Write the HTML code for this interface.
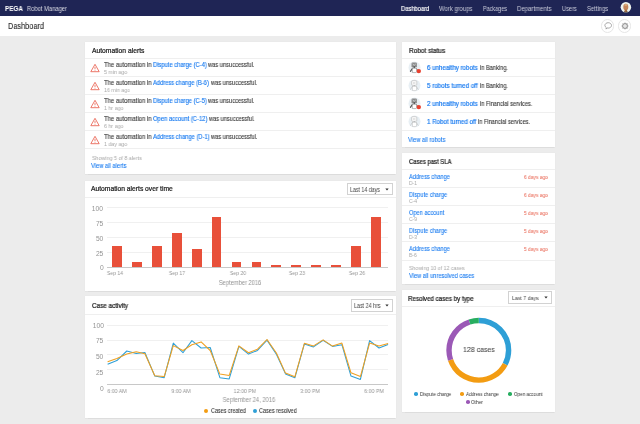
<!DOCTYPE html>
<html><head><meta charset="utf-8"><title>Robot Manager - Dashboard</title>
<style>
html,body{margin:0;padding:0;width:640px;height:424px;overflow:hidden;background:#ececec;font-family:"Liberation Sans", sans-serif;}
.t{position:absolute;white-space:nowrap;line-height:12px;will-change:transform;}
</style></head><body>
<div style="position:absolute;left:0.00px;top:0.00px;width:640.00px;height:16.00px;background:#1f2555"></div>
<div class="t" style="top:3.00px;font-size:6.985px;color:#fff;font-weight:bold;left:5.00px;transform-origin:0 0;transform:scaleX(0.9091);">PEGA</div>
<div class="t" style="top:3.00px;font-size:6.960px;color:#d8d9e3;left:27.00px;transform-origin:0 0;transform:scaleX(0.8333);">Robot Manager</div>
<div class="t" style="top:3.00px;font-size:6.435px;color:#fff;left:401.20px;transform-origin:0 0;transform:scaleX(0.9022);-webkit-text-stroke:0.15px #fff;">Dashboard</div>
<div class="t" style="top:3.00px;font-size:6.435px;color:#c9cbda;left:439.40px;transform-origin:0 0;transform:scaleX(0.9214);">Work groups</div>
<div class="t" style="top:3.00px;font-size:6.435px;color:#c9cbda;left:482.80px;transform-origin:0 0;transform:scaleX(0.8493);">Packages</div>
<div class="t" style="top:3.00px;font-size:6.435px;color:#c9cbda;left:517.10px;transform-origin:0 0;transform:scaleX(0.9366);">Departments</div>
<div class="t" style="top:3.00px;font-size:6.435px;color:#c9cbda;left:561.80px;transform-origin:0 0;transform:scaleX(0.8808);">Users</div>
<div class="t" style="top:3.00px;font-size:6.435px;color:#c9cbda;left:586.80px;transform-origin:0 0;transform:scaleX(0.9075);">Settings</div>
<svg style="position:absolute;left:620px;top:1px" width="12.5" height="12.5" viewBox="0 0 12.5 12.5"><clipPath id="av"><circle cx="5.9" cy="6.3" r="5.25"/></clipPath><g clip-path="url(#av)"><rect x="0" y="0" width="13" height="13" fill="#eef3ee"/><ellipse cx="5.8" cy="6.0" rx="2.5" ry="3.3" fill="#c4855a"/><ellipse cx="5.8" cy="3.9" rx="1.6" ry="1.1" fill="#d9a878"/><rect x="4.6" y="8.6" width="2.5" height="2.4" fill="#a8703f"/><path d="M3.2 12.5 L4.2 10.2 L5.8 10.9 L7.4 10.2 L8.4 12.5Z" fill="#4e4038"/></g></svg>
<div style="position:absolute;left:0.00px;top:16.00px;width:640.00px;height:19.80px;background:#fff"></div>
<div class="t" style="top:20.00px;font-size:8.832px;color:#2b2b2b;left:8.00px;transform-origin:0 0;transform:scaleX(0.8333);-webkit-text-stroke:0.1px #2b2b2b;">Dashboard</div>
<div style="position:absolute;left:600.70px;top:19.40px;width:13.20px;height:13.20px;border-radius:50%;box-sizing:border-box;border:1.1px solid #e6e6e6;background:#fff"></div>
<div style="position:absolute;left:618.20px;top:19.40px;width:13.20px;height:13.20px;border-radius:50%;box-sizing:border-box;border:1.1px solid #e6e6e6;background:#fff"></div>
<svg style="position:absolute;left:602.8px;top:20.9px" width="10" height="10" viewBox="0 0 10 10"><path d="M5.2 1.7 C7 1.7 8.5 2.9 8.5 4.4 C8.5 5.9 7 7.1 5.2 7.1 C4.8 7.1 4.4 7.05 4.05 6.95 L3.1 8.1 L3.2 6.5 C2.4 6 1.9 5.25 1.9 4.4 C1.9 2.9 3.4 1.7 5.2 1.7Z" fill="none" stroke="#979797" stroke-width="0.85" stroke-linejoin="round"/></svg>
<svg style="position:absolute;left:620px;top:21.3px" width="10" height="10" viewBox="0 0 10 10"><circle cx="5" cy="5" r="2.35" fill="none" stroke="#9a9a9a" stroke-width="1.2"/><rect x="4.6" y="1.5" width="0.8" height="1.0" fill="#9a9a9a" transform="rotate(0 5 5)"/><rect x="4.6" y="1.5" width="0.8" height="1.0" fill="#9a9a9a" transform="rotate(45 5 5)"/><rect x="4.6" y="1.5" width="0.8" height="1.0" fill="#9a9a9a" transform="rotate(90 5 5)"/><rect x="4.6" y="1.5" width="0.8" height="1.0" fill="#9a9a9a" transform="rotate(135 5 5)"/><rect x="4.6" y="1.5" width="0.8" height="1.0" fill="#9a9a9a" transform="rotate(180 5 5)"/><rect x="4.6" y="1.5" width="0.8" height="1.0" fill="#9a9a9a" transform="rotate(225 5 5)"/><rect x="4.6" y="1.5" width="0.8" height="1.0" fill="#9a9a9a" transform="rotate(270 5 5)"/><rect x="4.6" y="1.5" width="0.8" height="1.0" fill="#9a9a9a" transform="rotate(315 5 5)"/><circle cx="5" cy="5" r="1.0" fill="#dcdcdc"/></svg>
<div style="position:absolute;left:0.00px;top:35.80px;width:640.00px;height:388.20px;background:#ececec"></div>
<div style="position:absolute;left:85.00px;top:41.60px;width:311.00px;height:132.70px;background:#fff;box-shadow:0 0 0.6px rgba(0,0,0,0.16),0 0.6px 1px rgba(0,0,0,0.06)"></div>
<div class="t" style="top:45.00px;font-size:6.600px;color:#222;left:91.50px;transform-origin:0 0;transform:scaleX(1.0223);-webkit-text-stroke:0.22px #222;">Automation alerts</div>
<div style="position:absolute;left:85.00px;top:57.90px;width:311.00px;height:1.00px;background:#efefef"></div>
<div class="t" style="top:59.00px;font-size:6.490px;color:#333;left:104.00px;transform-origin:0 0;transform:scaleX(0.9163);-webkit-text-stroke:0.1px #333;">The automation in</div>
<div class="t" style="top:59.00px;font-size:6.490px;color:#1b7cf0;left:153.10px;transform-origin:0 0;transform:scaleX(0.8932);-webkit-text-stroke:0.15px #1b7cf0;">Dispute charge (C-4)</div>
<div class="t" style="top:59.00px;font-size:6.490px;color:#333;left:208.40px;transform-origin:0 0;transform:scaleX(0.8811);-webkit-text-stroke:0.1px #333;">was unsuccessful.</div>
<div class="t" style="top:66.00px;font-size:5.830px;color:#a8a8a8;left:104.00px;transform-origin:0 0;transform:scaleX(0.9091);">5 min ago</div>
<svg style="position:absolute;left:90px;top:62.50px" width="10" height="10" viewBox="0 0 10 10"><path d="M5 1.3 L9.2 8.7 L0.8 8.7 Z" fill="none" stroke="#e8604f" stroke-width="0.85" stroke-linejoin="round"/><path d="M5 3.9 L5 6.2" stroke="#e8604f" stroke-width="0.8"/><circle cx="5" cy="7.3" r="0.45" fill="#e8604f"/></svg>
<div style="position:absolute;left:85.00px;top:75.90px;width:311.00px;height:1.00px;background:#efefef"></div>
<div class="t" style="top:77.00px;font-size:6.490px;color:#333;left:104.00px;transform-origin:0 0;transform:scaleX(0.9163);-webkit-text-stroke:0.1px #333;">The automation in</div>
<div class="t" style="top:77.00px;font-size:6.490px;color:#1b7cf0;left:153.10px;transform-origin:0 0;transform:scaleX(0.8856);-webkit-text-stroke:0.15px #1b7cf0;">Address change (B-6)</div>
<div class="t" style="top:77.00px;font-size:6.490px;color:#333;left:210.90px;transform-origin:0 0;transform:scaleX(0.8792);-webkit-text-stroke:0.1px #333;">was unsuccessful.</div>
<div class="t" style="top:84.00px;font-size:5.830px;color:#a8a8a8;left:104.00px;transform-origin:0 0;transform:scaleX(0.9091);">16 min ago</div>
<svg style="position:absolute;left:90px;top:80.50px" width="10" height="10" viewBox="0 0 10 10"><path d="M5 1.3 L9.2 8.7 L0.8 8.7 Z" fill="none" stroke="#e8604f" stroke-width="0.85" stroke-linejoin="round"/><path d="M5 3.9 L5 6.2" stroke="#e8604f" stroke-width="0.8"/><circle cx="5" cy="7.3" r="0.45" fill="#e8604f"/></svg>
<div style="position:absolute;left:85.00px;top:93.90px;width:311.00px;height:1.00px;background:#efefef"></div>
<div class="t" style="top:95.00px;font-size:6.490px;color:#333;left:104.00px;transform-origin:0 0;transform:scaleX(0.9163);-webkit-text-stroke:0.1px #333;">The automation in</div>
<div class="t" style="top:95.00px;font-size:6.490px;color:#1b7cf0;left:153.10px;transform-origin:0 0;transform:scaleX(0.8932);-webkit-text-stroke:0.15px #1b7cf0;">Dispute charge (C-5)</div>
<div class="t" style="top:95.00px;font-size:6.490px;color:#333;left:208.40px;transform-origin:0 0;transform:scaleX(0.8811);-webkit-text-stroke:0.1px #333;">was unsuccessful.</div>
<div class="t" style="top:102.00px;font-size:5.830px;color:#a8a8a8;left:104.00px;transform-origin:0 0;transform:scaleX(0.9091);">1 hr ago</div>
<svg style="position:absolute;left:90px;top:98.50px" width="10" height="10" viewBox="0 0 10 10"><path d="M5 1.3 L9.2 8.7 L0.8 8.7 Z" fill="none" stroke="#e8604f" stroke-width="0.85" stroke-linejoin="round"/><path d="M5 3.9 L5 6.2" stroke="#e8604f" stroke-width="0.8"/><circle cx="5" cy="7.3" r="0.45" fill="#e8604f"/></svg>
<div style="position:absolute;left:85.00px;top:111.90px;width:311.00px;height:1.00px;background:#efefef"></div>
<div class="t" style="top:113.00px;font-size:6.490px;color:#333;left:104.00px;transform-origin:0 0;transform:scaleX(0.9163);-webkit-text-stroke:0.1px #333;">The automation in</div>
<div class="t" style="top:113.00px;font-size:6.490px;color:#1b7cf0;left:153.10px;transform-origin:0 0;transform:scaleX(0.8977);-webkit-text-stroke:0.15px #1b7cf0;">Open account (C-12)</div>
<div class="t" style="top:113.00px;font-size:6.490px;color:#333;left:209.00px;transform-origin:0 0;transform:scaleX(0.8697);-webkit-text-stroke:0.1px #333;">was unsuccessful.</div>
<div class="t" style="top:120.00px;font-size:5.830px;color:#a8a8a8;left:104.00px;transform-origin:0 0;transform:scaleX(0.9091);">6 hr ago</div>
<svg style="position:absolute;left:90px;top:116.50px" width="10" height="10" viewBox="0 0 10 10"><path d="M5 1.3 L9.2 8.7 L0.8 8.7 Z" fill="none" stroke="#e8604f" stroke-width="0.85" stroke-linejoin="round"/><path d="M5 3.9 L5 6.2" stroke="#e8604f" stroke-width="0.8"/><circle cx="5" cy="7.3" r="0.45" fill="#e8604f"/></svg>
<div style="position:absolute;left:85.00px;top:129.90px;width:311.00px;height:1.00px;background:#efefef"></div>
<div class="t" style="top:131.00px;font-size:6.490px;color:#333;left:104.00px;transform-origin:0 0;transform:scaleX(0.9163);-webkit-text-stroke:0.1px #333;">The automation in</div>
<div class="t" style="top:131.00px;font-size:6.490px;color:#1b7cf0;left:153.10px;transform-origin:0 0;transform:scaleX(0.8924);-webkit-text-stroke:0.15px #1b7cf0;">Address change (D-1)</div>
<div class="t" style="top:131.00px;font-size:6.490px;color:#333;left:211.25px;transform-origin:0 0;transform:scaleX(0.8830);-webkit-text-stroke:0.1px #333;">was unsuccessful.</div>
<div class="t" style="top:138.00px;font-size:5.830px;color:#a8a8a8;left:104.00px;transform-origin:0 0;transform:scaleX(0.9091);">1 day ago</div>
<svg style="position:absolute;left:90px;top:134.50px" width="10" height="10" viewBox="0 0 10 10"><path d="M5 1.3 L9.2 8.7 L0.8 8.7 Z" fill="none" stroke="#e8604f" stroke-width="0.85" stroke-linejoin="round"/><path d="M5 3.9 L5 6.2" stroke="#e8604f" stroke-width="0.8"/><circle cx="5" cy="7.3" r="0.45" fill="#e8604f"/></svg>
<div style="position:absolute;left:85.00px;top:147.90px;width:311.00px;height:1.00px;background:#efefef"></div>
<div class="t" style="top:152.00px;font-size:6.152px;color:#a8a8a8;left:91.50px;transform-origin:0 0;transform:scaleX(0.8696);">Showing 5 of 8 alerts</div>
<div class="t" style="top:160.00px;font-size:6.635px;color:#1b7cf0;left:91.30px;transform-origin:0 0;transform:scaleX(0.8696);-webkit-text-stroke:0.1px #1b7cf0;">View all alerts</div>
<div style="position:absolute;left:85.00px;top:180.50px;width:311.00px;height:110.00px;background:#fff;box-shadow:0 0 0.6px rgba(0,0,0,0.16),0 0.6px 1px rgba(0,0,0,0.06)"></div>
<div class="t" style="top:183.00px;font-size:6.600px;color:#222;left:91.40px;transform-origin:0 0;transform:scaleX(1.0183);-webkit-text-stroke:0.22px #222;">Automation alerts over time</div>
<div style="position:absolute;left:85.00px;top:197.00px;width:311.00px;height:1.00px;background:#efefef"></div>
<div style="position:absolute;left:346.50px;top:182.50px;width:46.70px;height:12.30px;box-sizing:border-box;border:0.8px solid #d2d2d2;background:#fff"></div>
<div class="t" style="top:184.00px;font-size:6.348px;color:#444;left:350.00px;transform-origin:0 0;transform:scaleX(0.8333);">Last 14 days</div>
<svg style="position:absolute;left:385.00px;top:187.50px" width="4" height="3" viewBox="0 0 4 3"><path d="M0.3 0.6 L3.7 0.6 L2 2.4Z" fill="#333"/></svg>
<div style="position:absolute;left:107.00px;top:206.90px;width:281.00px;height:1.00px;background:#f0f0f0"></div>
<div style="position:absolute;left:107.00px;top:221.90px;width:281.00px;height:1.00px;background:#f0f0f0"></div>
<div style="position:absolute;left:107.00px;top:236.90px;width:281.00px;height:1.00px;background:#f0f0f0"></div>
<div style="position:absolute;left:107.00px;top:251.90px;width:281.00px;height:1.00px;background:#f0f0f0"></div>
<div class="t" style="top:203.00px;font-size:6.600px;color:#939393;right:536.60px;transform-origin:100% 0;transform:scaleX(1.0163);">100</div>
<div class="t" style="top:218.00px;font-size:6.600px;color:#939393;right:536.60px;transform-origin:100% 0;transform:scaleX(1.0163);">75</div>
<div class="t" style="top:233.00px;font-size:6.600px;color:#939393;right:536.60px;transform-origin:100% 0;transform:scaleX(1.0163);">50</div>
<div class="t" style="top:248.00px;font-size:6.600px;color:#939393;right:536.60px;transform-origin:100% 0;transform:scaleX(1.0163);">25</div>
<div class="t" style="top:262.00px;font-size:6.600px;color:#939393;right:536.60px;transform-origin:100% 0;transform:scaleX(1.0163);">0</div>
<div style="position:absolute;left:112.00px;top:245.60px;width:9.80px;height:21.60px;background:#e8503a"></div>
<div style="position:absolute;left:131.93px;top:261.80px;width:9.80px;height:5.40px;background:#e8503a"></div>
<div style="position:absolute;left:151.86px;top:245.60px;width:9.80px;height:21.60px;background:#e8503a"></div>
<div style="position:absolute;left:171.79px;top:232.70px;width:9.80px;height:34.50px;background:#e8503a"></div>
<div style="position:absolute;left:191.72px;top:248.60px;width:9.80px;height:18.60px;background:#e8503a"></div>
<div style="position:absolute;left:211.65px;top:217.40px;width:9.80px;height:49.80px;background:#e8503a"></div>
<div style="position:absolute;left:231.58px;top:262.40px;width:9.80px;height:4.80px;background:#e8503a"></div>
<div style="position:absolute;left:251.51px;top:262.40px;width:9.80px;height:4.80px;background:#e8503a"></div>
<div style="position:absolute;left:271.44px;top:264.80px;width:9.80px;height:2.40px;background:#e8503a"></div>
<div style="position:absolute;left:291.37px;top:264.80px;width:9.80px;height:2.40px;background:#e8503a"></div>
<div style="position:absolute;left:311.30px;top:264.80px;width:9.80px;height:2.40px;background:#e8503a"></div>
<div style="position:absolute;left:331.23px;top:264.80px;width:9.80px;height:2.40px;background:#e8503a"></div>
<div style="position:absolute;left:351.16px;top:245.60px;width:9.80px;height:21.60px;background:#e8503a"></div>
<div style="position:absolute;left:371.09px;top:217.40px;width:9.80px;height:49.80px;background:#e8503a"></div>
<div style="position:absolute;left:107.00px;top:266.90px;width:281.00px;height:1.50px;background:#c8c8c8"></div>
<div class="t" style="top:267.00px;font-size:6.156px;color:#939393;left:-85.40px;width:400px;text-align:center;transform-origin:50% 0;transform:scaleX(0.8333);">Sep 14</div>
<div class="t" style="top:267.00px;font-size:6.156px;color:#939393;left:-23.10px;width:400px;text-align:center;transform-origin:50% 0;transform:scaleX(0.8333);">Sep 17</div>
<div class="t" style="top:267.00px;font-size:6.156px;color:#939393;left:37.50px;width:400px;text-align:center;transform-origin:50% 0;transform:scaleX(0.8333);">Sep 20</div>
<div class="t" style="top:267.00px;font-size:6.156px;color:#939393;left:96.90px;width:400px;text-align:center;transform-origin:50% 0;transform:scaleX(0.8333);">Sep 23</div>
<div class="t" style="top:267.00px;font-size:6.156px;color:#939393;left:157.25px;width:400px;text-align:center;transform-origin:50% 0;transform:scaleX(0.8333);">Sep 26</div>
<div class="t" style="top:277.00px;font-size:6.325px;color:#939393;left:40.00px;width:400px;text-align:center;transform-origin:50% 0;transform:scaleX(0.9091);">September 2016</div>
<div style="position:absolute;left:85.00px;top:296.30px;width:311.00px;height:121.70px;background:#fff;box-shadow:0 0 0.6px rgba(0,0,0,0.16),0 0.6px 1px rgba(0,0,0,0.06)"></div>
<div class="t" style="top:300.00px;font-size:6.600px;color:#222;left:91.75px;transform-origin:0 0;transform:scaleX(0.9623);-webkit-text-stroke:0.22px #222;">Case activity</div>
<div style="position:absolute;left:85.00px;top:313.70px;width:311.00px;height:1.00px;background:#efefef"></div>
<div style="position:absolute;left:351.10px;top:299.20px;width:41.60px;height:12.50px;box-sizing:border-box;border:0.8px solid #d2d2d2;background:#fff"></div>
<div class="t" style="top:300.00px;font-size:6.432px;color:#444;left:354.00px;transform-origin:0 0;transform:scaleX(0.8333);">Last 24 hrs</div>
<svg style="position:absolute;left:384.60px;top:304.10px" width="4" height="3" viewBox="0 0 4 3"><path d="M0.3 0.6 L3.7 0.6 L2 2.4Z" fill="#333"/></svg>
<div style="position:absolute;left:107.00px;top:324.80px;width:281.00px;height:1.00px;background:#f0f0f0"></div>
<div style="position:absolute;left:107.00px;top:339.50px;width:281.00px;height:1.00px;background:#f0f0f0"></div>
<div style="position:absolute;left:107.00px;top:354.40px;width:281.00px;height:1.00px;background:#f0f0f0"></div>
<div style="position:absolute;left:107.00px;top:369.10px;width:281.00px;height:1.00px;background:#f0f0f0"></div>
<div style="position:absolute;left:107.00px;top:383.80px;width:281.00px;height:1.50px;background:#c8c8c8"></div>
<div class="t" style="top:320.00px;font-size:6.600px;color:#939393;right:536.40px;transform-origin:100% 0;transform:scaleX(1.0163);">100</div>
<div class="t" style="top:335.00px;font-size:6.600px;color:#939393;right:536.40px;transform-origin:100% 0;transform:scaleX(1.0163);">75</div>
<div class="t" style="top:351.00px;font-size:6.600px;color:#939393;right:536.40px;transform-origin:100% 0;transform:scaleX(1.0163);">50</div>
<div class="t" style="top:367.00px;font-size:6.600px;color:#939393;right:536.40px;transform-origin:100% 0;transform:scaleX(1.0163);">25</div>
<div class="t" style="top:383.00px;font-size:6.600px;color:#939393;right:536.40px;transform-origin:100% 0;transform:scaleX(1.0163);">0</div>
<div class="t" style="top:385.00px;font-size:6.049px;color:#939393;left:-83.40px;width:400px;text-align:center;transform-origin:50% 0;transform:scaleX(0.8696);">6:00 AM</div>
<div class="t" style="top:385.00px;font-size:6.049px;color:#939393;left:-19.00px;width:400px;text-align:center;transform-origin:50% 0;transform:scaleX(0.8696);">9:00 AM</div>
<div class="t" style="top:385.00px;font-size:6.049px;color:#939393;left:45.00px;width:400px;text-align:center;transform-origin:50% 0;transform:scaleX(0.8696);">12:00 PM</div>
<div class="t" style="top:385.00px;font-size:6.049px;color:#939393;left:110.00px;width:400px;text-align:center;transform-origin:50% 0;transform:scaleX(0.8696);">3:00 PM</div>
<div class="t" style="top:385.00px;font-size:6.049px;color:#939393;left:174.20px;width:400px;text-align:center;transform-origin:50% 0;transform:scaleX(0.8696);">6:00 PM</div>
<div class="t" style="top:394.00px;font-size:6.380px;color:#939393;left:49.00px;width:400px;text-align:center;transform-origin:50% 0;transform:scaleX(0.9091);">September 24, 2016</div>
<div style="position:absolute;left:204px;top:408.7px;width:4px;height:4px;border-radius:50%;background:#f39c12"></div>
<div class="t" style="top:405.00px;font-size:6.516px;color:#333;left:210.50px;transform-origin:0 0;transform:scaleX(0.8333);-webkit-text-stroke:0.08px #333;">Cases created</div>
<div style="position:absolute;left:252.6px;top:408.5px;width:4px;height:4px;border-radius:50%;background:#2e9fd6"></div>
<div class="t" style="top:405.00px;font-size:6.600px;color:#333;left:259.40px;transform-origin:0 0;transform:scaleX(0.8333);-webkit-text-stroke:0.08px #333;">Cases resolved</div>
<svg style="position:absolute;left:0;top:0" width="640" height="424"><polyline points="107.6,364.2 116.9,360.6 126.8,351.0 136.2,353.5 144.9,352.5 154.8,376.1 164.2,377.7 173.3,343.1 183.0,352.7 191.9,340.6 201.1,348.0 210.2,347.5 219.9,377.7 229.2,378.9 238.9,346.4 248.5,354.1 257.5,350.4 267.0,340.1 276.4,354.3 285.5,373.9 294.9,377.7 304.4,343.9 313.5,346.9 323.1,340.4 332.5,346.4 341.9,344.7 351.0,376.1 360.4,379.4 369.6,340.6 379.0,348.0 388.1,344.4" fill="none" stroke="#2e9fd6" stroke-width="1.05" stroke-linejoin="round"/><polyline points="107.6,361.7 116.9,358.4 126.8,354.1 136.2,351.7 144.9,353.8 154.8,375.8 164.2,376.6 173.3,345.6 183.0,350.5 191.9,344.7 201.1,341.9 210.2,350.5 219.9,374.1 229.2,375.4 238.9,345.9 248.5,352.7 257.5,349.2 267.0,339.5 276.4,353.0 285.5,373.1 294.9,376.7 304.4,343.3 313.5,345.9 323.1,339.9 332.5,346.1 341.9,343.1 351.0,372.8 360.4,376.6 369.6,343.1 379.0,346.1 388.1,343.6" fill="none" stroke="#f0a020" stroke-width="1.05" stroke-linejoin="round"/></svg>
<div style="position:absolute;left:401.70px;top:41.60px;width:153.00px;height:105.60px;background:#fff;box-shadow:0 0 0.6px rgba(0,0,0,0.16),0 0.6px 1px rgba(0,0,0,0.06)"></div>
<div class="t" style="top:45.00px;font-size:6.600px;color:#222;left:408.75px;transform-origin:0 0;transform:scaleX(0.9784);-webkit-text-stroke:0.22px #222;">Robot status</div>
<div style="position:absolute;left:401.70px;top:57.80px;width:153.00px;height:1.00px;background:#efefef"></div>
<div class="t" style="top:62.00px;font-size:6.600px;color:#1b7cf0;left:426.60px;transform-origin:0 0;transform:scaleX(0.9337);-webkit-text-stroke:0.2px #1b7cf0;">6 unhealthy robots</div>
<div class="t" style="top:62.00px;font-size:6.600px;color:#333;left:479.60px;transform-origin:0 0;transform:scaleX(0.8544);-webkit-text-stroke:0.1px #333;">in Banking.</div>
<svg style="position:absolute;left:408.1px;top:61.10px" width="13" height="13" viewBox="0 0 13 13"><circle cx="6.5" cy="6.5" r="6" fill="#e8eff4"/><rect x="3.5" y="1.5" width="5.4" height="5" rx="1.2" fill="#8c8c8c"/><path d="M4.7 3 L6.2 4.4 L7.7 3" stroke="#d8dee2" stroke-width="0.8" fill="none"/><rect x="5.7" y="5.2" width="1" height="2" fill="#3a3a3a"/><path d="M4.3 7.6 L2.4 10.4" stroke="#555" stroke-width="1.1" stroke-linecap="round"/><path d="M8.4 7.6 L10 9.6" stroke="#777" stroke-width="1" stroke-linecap="round"/><rect x="4.4" y="7.3" width="3.9" height="4.3" fill="#fff" stroke="#8a8a8a" stroke-width="0.5"/><circle cx="10.8" cy="10.1" r="2.2" fill="#e8402f"/></svg>
<div style="position:absolute;left:401.70px;top:75.80px;width:153.00px;height:1.00px;background:#efefef"></div>
<div class="t" style="top:80.00px;font-size:6.600px;color:#1b7cf0;left:426.60px;transform-origin:0 0;transform:scaleX(0.9487);-webkit-text-stroke:0.2px #1b7cf0;">5 robots turned off</div>
<div class="t" style="top:80.00px;font-size:6.600px;color:#333;left:479.60px;transform-origin:0 0;transform:scaleX(0.8544);-webkit-text-stroke:0.1px #333;">in Banking.</div>
<svg style="position:absolute;left:408.1px;top:79.10px" width="13" height="13" viewBox="0 0 13 13"><circle cx="6.5" cy="6.5" r="6" fill="#e8eff4"/><rect x="3.6" y="1.6" width="5.2" height="4.8" rx="1.1" fill="#fafafa" stroke="#b4b4b4" stroke-width="0.55"/><path d="M4.8 3 L7.6 5 M7.6 3 L4.8 5" stroke="#cdcdcd" stroke-width="0.5"/><rect x="5.8" y="6.3" width="0.8" height="1" fill="#9a9a9a"/><path d="M4.3 7.6 L2.5 10.4 M8.4 7.6 L10.2 10.4" stroke="#b8b8b8" stroke-width="0.6" stroke-linecap="round"/><rect x="4.4" y="7.3" width="3.9" height="4.3" fill="#fff" stroke="#bdbdbd" stroke-width="0.5"/></svg>
<div style="position:absolute;left:401.70px;top:93.80px;width:153.00px;height:1.00px;background:#efefef"></div>
<div class="t" style="top:98.00px;font-size:6.600px;color:#1b7cf0;left:426.60px;transform-origin:0 0;transform:scaleX(0.9337);-webkit-text-stroke:0.2px #1b7cf0;">2 unhealthy robots</div>
<div class="t" style="top:98.00px;font-size:6.600px;color:#333;left:479.60px;transform-origin:0 0;transform:scaleX(0.8555);-webkit-text-stroke:0.1px #333;">in Financial services.</div>
<svg style="position:absolute;left:408.1px;top:97.10px" width="13" height="13" viewBox="0 0 13 13"><circle cx="6.5" cy="6.5" r="6" fill="#e8eff4"/><rect x="3.5" y="1.5" width="5.4" height="5" rx="1.2" fill="#8c8c8c"/><path d="M4.7 3 L6.2 4.4 L7.7 3" stroke="#d8dee2" stroke-width="0.8" fill="none"/><rect x="5.7" y="5.2" width="1" height="2" fill="#3a3a3a"/><path d="M4.3 7.6 L2.4 10.4" stroke="#555" stroke-width="1.1" stroke-linecap="round"/><path d="M8.4 7.6 L10 9.6" stroke="#777" stroke-width="1" stroke-linecap="round"/><rect x="4.4" y="7.3" width="3.9" height="4.3" fill="#fff" stroke="#8a8a8a" stroke-width="0.5"/><circle cx="10.8" cy="10.1" r="2.2" fill="#e8402f"/></svg>
<div style="position:absolute;left:401.70px;top:111.80px;width:153.00px;height:1.00px;background:#efefef"></div>
<div class="t" style="top:116.00px;font-size:6.600px;color:#1b7cf0;left:426.60px;transform-origin:0 0;transform:scaleX(0.9353);-webkit-text-stroke:0.2px #1b7cf0;">1 Robot turned off</div>
<div class="t" style="top:116.00px;font-size:6.600px;color:#333;left:477.90px;transform-origin:0 0;transform:scaleX(0.8506);-webkit-text-stroke:0.1px #333;">in Financial services.</div>
<svg style="position:absolute;left:408.1px;top:115.10px" width="13" height="13" viewBox="0 0 13 13"><circle cx="6.5" cy="6.5" r="6" fill="#e8eff4"/><rect x="3.6" y="1.6" width="5.2" height="4.8" rx="1.1" fill="#fafafa" stroke="#b4b4b4" stroke-width="0.55"/><path d="M4.8 3 L7.6 5 M7.6 3 L4.8 5" stroke="#cdcdcd" stroke-width="0.5"/><rect x="5.8" y="6.3" width="0.8" height="1" fill="#9a9a9a"/><path d="M4.3 7.6 L2.5 10.4 M8.4 7.6 L10.2 10.4" stroke="#b8b8b8" stroke-width="0.6" stroke-linecap="round"/><rect x="4.4" y="7.3" width="3.9" height="4.3" fill="#fff" stroke="#bdbdbd" stroke-width="0.5"/></svg>
<div style="position:absolute;left:401.70px;top:129.80px;width:153.00px;height:1.00px;background:#efefef"></div>
<div class="t" style="top:134.00px;font-size:6.635px;color:#1b7cf0;left:408.30px;transform-origin:0 0;transform:scaleX(0.8696);-webkit-text-stroke:0.1px #1b7cf0;">View all robots</div>
<div style="position:absolute;left:401.70px;top:153.10px;width:153.00px;height:130.80px;background:#fff;box-shadow:0 0 0.6px rgba(0,0,0,0.16),0 0.6px 1px rgba(0,0,0,0.06)"></div>
<div class="t" style="top:156.00px;font-size:6.600px;color:#222;left:408.75px;transform-origin:0 0;transform:scaleX(0.8981);-webkit-text-stroke:0.22px #222;">Cases past SLA</div>
<div style="position:absolute;left:401.70px;top:169.00px;width:153.00px;height:1.00px;background:#efefef"></div>
<div class="t" style="top:171.00px;font-size:6.804px;color:#1b7cf0;left:408.80px;transform-origin:0 0;transform:scaleX(0.8333);-webkit-text-stroke:0.1px #1b7cf0;">Address change</div>
<div class="t" style="top:177.00px;font-size:5.635px;color:#a8a8a8;left:408.80px;transform-origin:0 0;transform:scaleX(0.8696);">D-1</div>
<div class="t" style="top:171.00px;font-size:6.138px;color:#e8604c;right:92.20px;transform-origin:100% 0;transform:scaleX(0.8000);">6 days ago</div>
<div style="position:absolute;left:401.70px;top:187.10px;width:153.00px;height:1.00px;background:#efefef"></div>
<div class="t" style="top:189.00px;font-size:6.804px;color:#1b7cf0;left:408.80px;transform-origin:0 0;transform:scaleX(0.8333);-webkit-text-stroke:0.1px #1b7cf0;">Dispute charge</div>
<div class="t" style="top:195.00px;font-size:5.635px;color:#a8a8a8;left:408.80px;transform-origin:0 0;transform:scaleX(0.8696);">C-4</div>
<div class="t" style="top:189.00px;font-size:6.138px;color:#e8604c;right:92.20px;transform-origin:100% 0;transform:scaleX(0.8000);">6 days ago</div>
<div style="position:absolute;left:401.70px;top:205.20px;width:153.00px;height:1.00px;background:#efefef"></div>
<div class="t" style="top:207.00px;font-size:6.804px;color:#1b7cf0;left:408.80px;transform-origin:0 0;transform:scaleX(0.8333);-webkit-text-stroke:0.1px #1b7cf0;">Open account</div>
<div class="t" style="top:213.00px;font-size:5.635px;color:#a8a8a8;left:408.80px;transform-origin:0 0;transform:scaleX(0.8696);">C-9</div>
<div class="t" style="top:207.00px;font-size:6.138px;color:#e8604c;right:92.20px;transform-origin:100% 0;transform:scaleX(0.8000);">5 days ago</div>
<div style="position:absolute;left:401.70px;top:223.30px;width:153.00px;height:1.00px;background:#efefef"></div>
<div class="t" style="top:225.00px;font-size:6.804px;color:#1b7cf0;left:408.80px;transform-origin:0 0;transform:scaleX(0.8333);-webkit-text-stroke:0.1px #1b7cf0;">Dispute charge</div>
<div class="t" style="top:231.00px;font-size:5.635px;color:#a8a8a8;left:408.80px;transform-origin:0 0;transform:scaleX(0.8696);">D-3</div>
<div class="t" style="top:225.00px;font-size:6.138px;color:#e8604c;right:92.20px;transform-origin:100% 0;transform:scaleX(0.8000);">5 days ago</div>
<div style="position:absolute;left:401.70px;top:241.40px;width:153.00px;height:1.00px;background:#efefef"></div>
<div class="t" style="top:243.00px;font-size:6.804px;color:#1b7cf0;left:408.80px;transform-origin:0 0;transform:scaleX(0.8333);-webkit-text-stroke:0.1px #1b7cf0;">Address change</div>
<div class="t" style="top:249.00px;font-size:5.635px;color:#a8a8a8;left:408.80px;transform-origin:0 0;transform:scaleX(0.8696);">B-6</div>
<div class="t" style="top:243.00px;font-size:6.138px;color:#e8604c;right:92.20px;transform-origin:100% 0;transform:scaleX(0.8000);">5 days ago</div>
<div style="position:absolute;left:401.70px;top:259.50px;width:153.00px;height:1.00px;background:#efefef"></div>
<div class="t" style="top:262.00px;font-size:6.026px;color:#a8a8a8;left:408.60px;transform-origin:0 0;transform:scaleX(0.8696);">Showing 10 of 12 cases</div>
<div class="t" style="top:270.00px;font-size:6.543px;color:#1b7cf0;left:408.60px;transform-origin:0 0;transform:scaleX(0.8696);-webkit-text-stroke:0.1px #1b7cf0;">View all unresolved cases</div>
<div style="position:absolute;left:401.70px;top:290.30px;width:153.00px;height:122.10px;background:#fff;box-shadow:0 0 0.6px rgba(0,0,0,0.16),0 0.6px 1px rgba(0,0,0,0.06)"></div>
<div class="t" style="top:293.00px;font-size:6.600px;color:#222;left:408.00px;transform-origin:0 0;transform:scaleX(0.9433);-webkit-text-stroke:0.22px #222;">Resolved cases by type</div>
<div style="position:absolute;left:401.70px;top:305.60px;width:153.00px;height:1.00px;background:#efefef"></div>
<div style="position:absolute;left:508.00px;top:291.20px;width:43.75px;height:12.40px;box-sizing:border-box;border:0.8px solid #d2d2d2;background:#fff"></div>
<div class="t" style="top:292.00px;font-size:6.240px;color:#444;left:512.00px;transform-origin:0 0;transform:scaleX(0.8333);">Last 7 days</div>
<svg style="position:absolute;left:543.70px;top:295.90px" width="4" height="3" viewBox="0 0 4 3"><path d="M0.3 0.6 L3.7 0.6 L2 2.4Z" fill="#333"/></svg>
<svg style="position:absolute;left:0;top:0" width="640" height="424"><circle cx="478.8" cy="350.3" r="29.8" fill="none" stroke="#2e9fd6" stroke-width="5.4" stroke-dasharray="61.165 187.239" stroke-dashoffset="-0.000" transform="rotate(-90 478.8 350.3)"/><circle cx="478.8" cy="350.3" r="29.8" fill="none" stroke="#f39c12" stroke-width="5.4" stroke-dasharray="69.382 187.239" stroke-dashoffset="-61.165" transform="rotate(-90 478.8 350.3)"/><circle cx="478.8" cy="350.3" r="29.8" fill="none" stroke="#9b59b6" stroke-width="5.4" stroke-dasharray="46.966 187.239" stroke-dashoffset="-130.547" transform="rotate(-90 478.8 350.3)"/><circle cx="478.8" cy="350.3" r="29.8" fill="none" stroke="#27ae60" stroke-width="5.4" stroke-dasharray="9.726 187.239" stroke-dashoffset="-177.513" transform="rotate(-90 478.8 350.3)"/></svg>
<div class="t" style="top:344.00px;font-size:7.645px;color:#4a4a4a;left:278.80px;width:400px;text-align:center;transform-origin:50% 0;transform:scaleX(0.9091);-webkit-text-stroke:0.1px #4a4a4a;">128 cases</div>
<div style="position:absolute;left:414.20px;top:392.10px;width:3.6px;height:3.6px;border-radius:50%;background:#2e9fd6"></div>
<div style="position:absolute;left:460.40px;top:392.10px;width:3.6px;height:3.6px;border-radius:50%;background:#f39c12"></div>
<div style="position:absolute;left:508.20px;top:392.10px;width:3.6px;height:3.6px;border-radius:50%;background:#27ae60"></div>
<div style="position:absolute;left:466.00px;top:400.30px;width:3.6px;height:3.6px;border-radius:50%;background:#9b59b6"></div>
<div class="t" style="top:388.00px;font-size:5.520px;color:#333;left:419.50px;transform-origin:0 0;transform:scaleX(0.8404);">Dispute charge</div>
<div class="t" style="top:388.00px;font-size:5.520px;color:#333;left:465.50px;transform-origin:0 0;transform:scaleX(0.8147);">Address change</div>
<div class="t" style="top:388.00px;font-size:5.520px;color:#333;left:513.50px;transform-origin:0 0;transform:scaleX(0.8322);">Open account</div>
<div class="t" style="top:396.00px;font-size:5.520px;color:#333;left:471.10px;transform-origin:0 0;transform:scaleX(0.8620);">Other</div>
</body></html>
